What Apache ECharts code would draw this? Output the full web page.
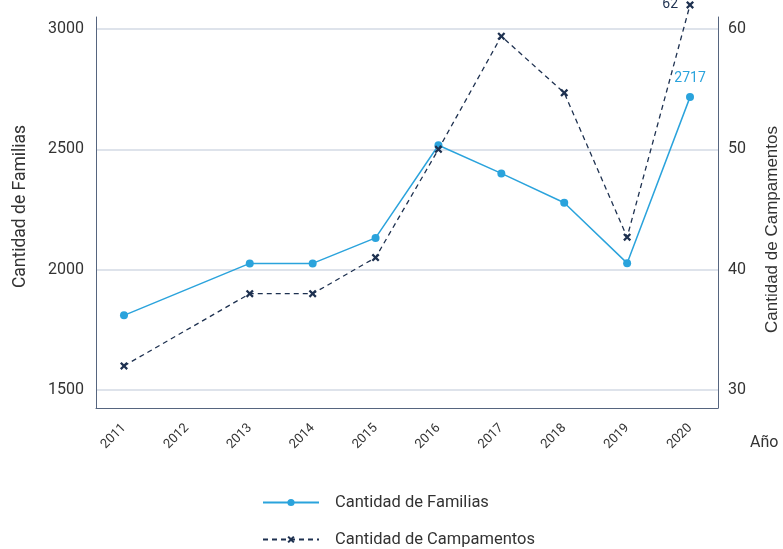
<!DOCTYPE html>
<html>
<head>
<meta charset="utf-8">
<script src="https://cdn.jsdelivr.net/npm/echarts@6/dist/echarts.min.js"></script>
<style>
  html, body { margin: 0; padding: 0; background: #ffffff; }
  #chart { width: 783px; height: 549px; }
</style>
</head>
<body>
<div id="chart"></div>
<script>
// Years on the horizontal axis
const years = [2011, 2012, 2013, 2014, 2015, 2016, 2017, 2018, 2019, 2020];
// Families living in camps (left axis); 2012 has no record
const familias = [1810, null, 2026, 2026, 2132, 2517, 2400, 2278, 2027, 2717];
// Number of camps (right axis); 2012 has no record
const campamentos = [32, null, 38, 38, 41, 50, 59.4, 54.7, 42.7, 62];
// Tick values on each vertical axis
const familiasTicks = [1500, 2000, 2500, 3000];
const campamentosTicks = [30, 40, 50, 60];
// Series names, also used as legend entries
const seriesNames = ['Cantidad de Familias', 'Cantidad de Campamentos'];

const FONT = 'Roboto, "Noto Sans", sans-serif';
const TEXT = '#333333';
const AXIS = '#56657f';
const GRID = '#d3dae5';
const BLUE = '#2aa3dc';
const NAVY = '#1e3150';
const CROSS = 'path://M2,0 L5,3 L8,0 L10,2 L7,5 L10,8 L8,10 L5,7 L2,10 L0,8 L3,5 L0,2 Z';

// pair each year with its value, skipping gaps so the line joins across them
const pairs = (vals) => years.map((y, i) => [y, vals[i]]).filter((p) => p[1] !== null);
const lastYear = years[years.length - 1];

// one legend row per series, stacked below the plot
const legendRow = (name, top) => ({
  left: 262,
  top: top,
  padding: 0,
  itemWidth: 56,
  itemHeight: 9,
  textStyle: { fontFamily: FONT, fontSize: 16.5, color: TEXT, padding: [0, 0, 0, 11] },
  data: [name]
});

const chart = echarts.init(document.getElementById('chart'), null, { renderer: 'canvas' });

chart.setOption({
  animation: false,
  backgroundColor: '#ffffff',
  textStyle: { fontFamily: FONT },
  grid: { left: 96, right: 65, top: 17, bottom: 141, containLabel: false, outerBoundsMode: 'none' },
  legend: [legendRow(seriesNames[0], 494), legendRow(seriesNames[1], 531)],
  xAxis: {
    type: 'value',
    min: 2010.555,
    max: 2020.445,
    name: 'Año',
    nameLocation: 'end',
    nameGap: 32,
    nameTextStyle: { fontFamily: FONT, fontSize: 16, color: TEXT, verticalAlign: 'top', padding: [27, 0, 0, 0] },
    axisLine: { show: true, lineStyle: { color: AXIS, width: 1 } },
    axisTick: { show: false, customValues: years },
    axisLabel: {
      customValues: years,
      rotate: 45,
      margin: 18,
      fontFamily: FONT,
      fontSize: 13,
      color: TEXT,
      formatter: (v) => String(v)
    },
    splitLine: { show: false }
  },
  yAxis: [
    {
      type: 'value',
      min: 1425,
      max: 3050,
      position: 'left',
      name: 'Cantidad de Familias',
      nameLocation: 'middle',
      nameGap: 66,
      nameTextStyle: { fontFamily: FONT, fontSize: 17.5, color: TEXT, padding: [0, 0, 0, 12] },
      axisLine: { show: true, lineStyle: { color: AXIS, width: 1 } },
      axisTick: { show: false, customValues: familiasTicks },
      axisLabel: {
        customValues: familiasTicks,
        margin: 12,
        fontFamily: FONT,
        fontSize: 16,
        color: TEXT,
        formatter: (v) => String(v)
      },
      splitLine: { show: true, lineStyle: { color: GRID, width: 1.5 } }
    },
    {
      type: 'value',
      min: 28.5,
      max: 61,
      position: 'right',
      name: 'Cantidad de Campamentos',
      nameLocation: 'middle',
      nameRotate: 90,
      nameGap: 46,
      nameTextStyle: {
        fontFamily: '"Liberation Sans", Arial, sans-serif',
        fontSize: 17,
        color: TEXT,
        padding: [0, 34, 0, 0]
      },
      axisLine: { show: true, lineStyle: { color: AXIS, width: 1 } },
      axisTick: { show: false, customValues: campamentosTicks },
      axisLabel: {
        customValues: campamentosTicks,
        margin: 10,
        fontFamily: FONT,
        fontSize: 16,
        color: TEXT,
        formatter: (v) => String(v)
      },
      splitLine: { show: false }
    }
  ],
  series: [
    {
      name: seriesNames[0],
      type: 'line',
      yAxisIndex: 0,
      data: pairs(familias),
      clip: false,
      symbol: 'circle',
      symbolSize: 8,
      showAllSymbol: true,
      itemStyle: { color: BLUE },
      lineStyle: { color: BLUE, width: 1.5 },
      label: {
        show: true,
        position: 'top',
        distance: 8,
        fontFamily: FONT,
        fontSize: 14,
        color: BLUE,
        formatter: (p) => (p.value[0] === lastYear ? String(p.value[1]) : '')
      },
      z: 3
    },
    {
      name: seriesNames[1],
      type: 'line',
      yAxisIndex: 1,
      data: pairs(campamentos),
      clip: false,
      symbol: CROSS,
      symbolSize: 8,
      showAllSymbol: true,
      itemStyle: { color: NAVY },
      lineStyle: { color: NAVY, width: 1.3, type: [5, 4] },
      label: {
        show: true,
        position: 'left',
        distance: 8,
        fontFamily: FONT,
        fontSize: 14,
        color: NAVY,
        formatter: (p) => (p.value[0] === lastYear ? String(p.value[1]) : '')
      },
      z: 4
    }
  ]
});
</script>
</body>
</html>
